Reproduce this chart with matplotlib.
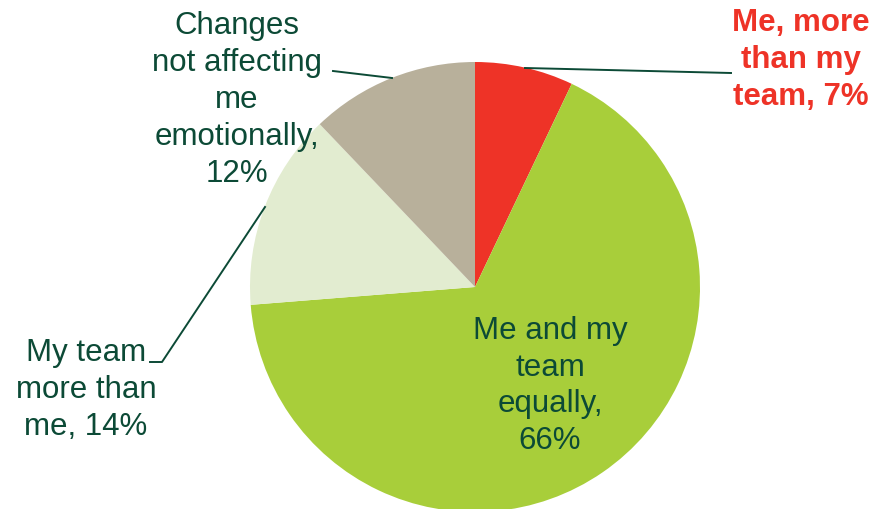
import matplotlib
matplotlib.use("Agg")
import matplotlib.pyplot as plt

# slice shares, clockwise from 12 o'clock
labels = ["Me, more\nthan my\nteam, 7%",
          "Me and my\nteam\nequally,\n66%",
          "My team\nmore than\nme, 14%",
          "Changes\nnot affecting\nme\nemotionally,\n12%"]
values = [7, 66, 14, 12]
colors = ["#EE3327", "#A8CE3A", "#E2ECD0", "#B8B09B"]

W, H = 870, 509
DARK = "#0C4A36"

fig = plt.figure(figsize=(W / 100, H / 100), dpi=100)
ax = fig.add_axes([0, 0, 1, 1])

cx, cy, r = 475, H - 287, 225
ax.pie(values, colors=colors, startangle=90, counterclock=False,
       center=(cx, cy), radius=r, frame=True,
       wedgeprops=dict(linewidth=0))
ax.set_xlim(0, W)
ax.set_ylim(0, H)
ax.set_aspect("equal")
ax.axis("off")

font = dict(family=["Liberation Sans", "DejaVu Sans"], fontsize=22.5,
            ha="center", va="center", linespacing=1.3)

def y(p):
    return H - p

ax.text(801, y(60), labels[0], color="#EE3327", fontweight="bold", **font)
ax.text(550, y(386), labels[1], color=DARK, **font)
ax.text(86, y(390), labels[2], color=DARK, **font)
ax.text(237, y(100), labels[3], color=DARK, **font)

# leader lines
lw = 1.4
ax.plot([525, 731], [y(68), y(73)], color=DARK, lw=lw)
ax.plot([333, 392], [y(71), y(78)], color=DARK, lw=lw)
ax.plot([150, 162, 265], [y(362), y(362), y(207)], color=DARK, lw=lw)

fig.savefig("out.png", dpi=100)
